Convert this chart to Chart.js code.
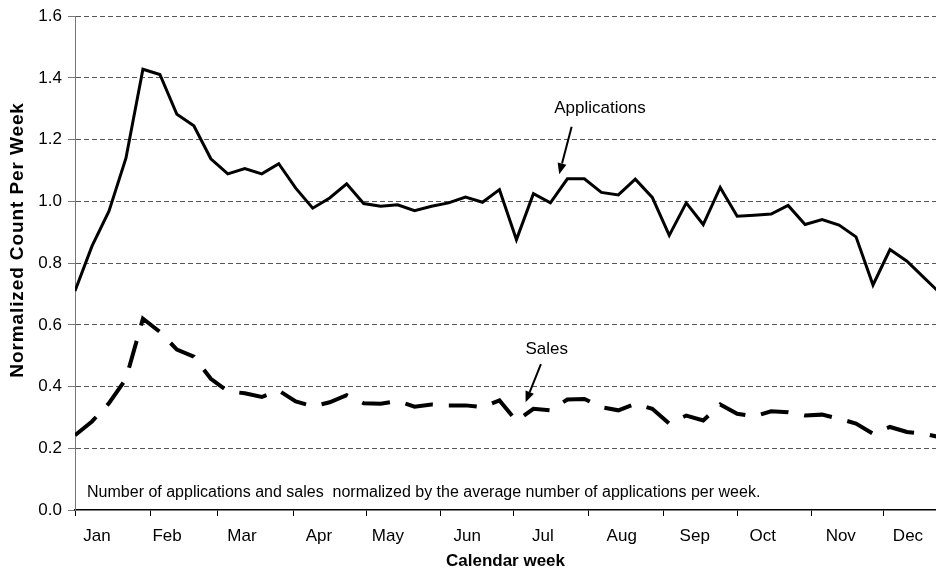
<!DOCTYPE html>
<html>
<head>
<meta charset="utf-8">
<script src="https://cdn.jsdelivr.net/npm/chart.js@4.4.1/dist/chart.umd.min.js"></script>
<style>
  body { margin: 0; background: #fff; }
  #wrap { width: 936px; height: 577px; }
</style>
</head>
<body>
<div id="wrap"><canvas id="myChart" width="936" height="577"></canvas></div>
<script>
// week numbers (x values)
var weeks = [1,2,3,4,5,6,7,8,9,10,11,12,13,14,15,16,17,18,19,20,21,22,23,24,25,26,
             27,28,29,30,31,32,33,34,35,36,37,38,39,40,41,42,43,44,45,46,47,48,49,50,51,52];

var applications = [0.71,0.855,0.968,1.14,1.428,1.411,1.282,1.245,1.138,1.089,1.106,1.089,1.122,
                    1.043,0.978,1.011,1.057,0.993,0.984,0.989,0.970,0.984,0.995,1.014,0.997,1.038,
                    0.876,1.025,0.995,1.073,1.073,1.029,1.021,1.072,1.013,0.890,0.995,0.925,1.045,
                    0.952,0.955,0.959,0.987,0.925,0.941,0.923,0.885,0.729,0.844,0.806,0.753,0.70];

var sales = [0.242,0.287,0.346,0.425,0.62,0.577,0.52,0.497,0.425,0.385,0.378,0.366,0.387,
             0.352,0.336,0.349,0.372,0.346,0.344,0.353,0.335,0.342,0.339,0.339,0.333,0.355,
             0.288,0.328,0.323,0.358,0.36,0.333,0.323,0.344,0.328,0.28,0.306,0.29,0.342,
             0.312,0.303,0.32,0.317,0.306,0.309,0.296,0.28,0.247,0.269,0.253,0.247,0.235];

var months = ['Jan','Feb','Mar','Apr','May','Jun','Jul','Aug','Sep','Oct','Nov','Dec'];
// week where each month begins (tick marks) and where its label sits
var monthStartWeek = [1,5.42,9.42,13.84,18.14,22.55,26.8,31.27,35.69,39.99,44.4,48.64];
var monthLabelWeek = [2.3,6.42,10.83,15.37,19.43,24.1,28.56,33.2,37.5,41.5,46.1,50.06];

var yTicks = ['0.0','0.2','0.4','0.6','0.8','1.0','1.2','1.4','1.6'];

var xMin = 1, xMax = 51.71;

Chart.defaults.font.family = "'Liberation Sans', Arial, sans-serif";
Chart.defaults.font.size = 17;
Chart.defaults.color = '#000';

function arrow(ctx, x1, y1, x2, y2) {
  var a = Math.atan2(y2 - y1, x2 - x1);
  var len = 11, w = 4.5;
  var bx = x2 - len * Math.cos(a), by = y2 - len * Math.sin(a);
  ctx.beginPath();
  ctx.moveTo(x1, y1);
  ctx.lineTo(bx, by);
  ctx.stroke();
  ctx.beginPath();
  ctx.moveTo(x2, y2);
  ctx.lineTo(bx + w * Math.sin(a), by - w * Math.cos(a));
  ctx.lineTo(bx - w * Math.sin(a), by + w * Math.cos(a));
  ctx.closePath();
  ctx.fill();
}

// text labels, arrows, footnote and the (stretched) y title
var notes = {
  id: 'notes',
  afterDraw: function(chart) {
    var ctx = chart.ctx, x = chart.scales.x, y = chart.scales.y;
    ctx.save();
    ctx.fillStyle = '#000';
    ctx.strokeStyle = '#000';
    ctx.lineWidth = 2;
    ctx.textBaseline = 'alphabetic';
    ctx.textAlign = 'center';
    ctx.font = "17px 'Liberation Sans', Arial, sans-serif";
    ctx.fillText('Applications', x.getPixelForValue(31.92), y.getPixelForValue(1.285));
    ctx.fillText('Sales', x.getPixelForValue(28.78), y.getPixelForValue(0.507));
    arrow(ctx, x.getPixelForValue(30.25), y.getPixelForValue(1.242),
               x.getPixelForValue(29.52), y.getPixelForValue(1.088));
    arrow(ctx, x.getPixelForValue(28.44), y.getPixelForValue(0.473),
               x.getPixelForValue(27.54), y.getPixelForValue(0.349));
    ctx.textAlign = 'left';
    ctx.font = "16px 'Liberation Sans', Arial, sans-serif";
    ctx.fillText('Number of applications and sales  normalized by the average number of applications per week.',
                 x.getPixelForValue(1.71), y.getPixelForValue(0.043));

    ctx.translate(18, y.getPixelForValue(0.875));
    ctx.rotate(-Math.PI / 2);
    ctx.textAlign = 'center';
    ctx.textBaseline = 'middle';
    ctx.font = "bold 19px 'Liberation Sans', Arial, sans-serif";
    ctx.letterSpacing = '0.9px';
    ctx.fillText('Normalized Count Per Week', 0, 0);
    ctx.restore();
  }
};

const myChartRef = document.getElementById('myChart').getContext('2d');
new Chart(myChartRef, {
  type: 'line',
  data: {
    labels: weeks,
    datasets: [{
      label: 'Applications',
      data: applications,
      borderColor: '#000',
      borderWidth: 3,
      pointRadius: 0,
      tension: 0
    }, {
      label: 'Sales',
      data: sales,
      borderColor: '#000',
      borderWidth: 4,
      borderDash: [28, 16],
      borderCapStyle: 'butt',
      pointRadius: 0,
      tension: 0
    }]
  },
  options: {
    responsive: false,
    animation: false,
    layout: { padding: { top: 14, right: 0, left: 0, bottom: 0 } },
    plugins: { legend: { display: false }, tooltip: { enabled: false } },
    scales: {
      x: {
        type: 'linear',
        position: 'bottom',
        min: xMin, max: xMax,
        weight: 0,
        afterBuildTicks: function(s) { s.ticks = monthStartWeek.map(function(v) { return {value: v}; }); },
        ticks: { display: false },
        grid: { display: true, drawOnChartArea: false, tickLength: 6, tickColor: '#000', tickWidth: 1 },
        border: { display: true, color: '#000', width: 1.5 }
      },
      xl: {
        type: 'linear',
        position: 'bottom',
        min: xMin, max: xMax,
        weight: 1,
        afterBuildTicks: function(s) { s.ticks = monthLabelWeek.map(function(v) { return {value: v}; }); },
        afterFit: function(s) { s.height = 61; },
        ticks: {
          autoSkip: false, maxRotation: 0, padding: 2,
          callback: function(v, i) { return months[i]; }
        },
        grid: { display: false },
        border: { display: false },
        title: { display: true, text: 'Calendar week', font: { size: 17, weight: 'bold' }, padding: { top: 0, bottom: 5 } }
      },
      y: {
        min: 0, max: 1.6,
        afterBuildTicks: function(s) { s.ticks = yTicks.map(function(t) { return {value: parseFloat(t)}; }); },
        afterFit: function(s) { s.width = 75; },
        ticks: { padding: 6, callback: function(v, i) { return yTicks[i]; } },
        grid: {
          color: function(c) { return c.tick && c.tick.value === 0 ? 'rgba(0,0,0,0)' : '#555'; },
          lineWidth: 1, tickLength: 7, tickColor: '#777', tickBorderDash: []
        },
        border: { display: true, color: '#777', width: 1, dash: [5, 3] }
      }
    }
  },
  plugins: [notes]
});
</script>
</body>
</html>
